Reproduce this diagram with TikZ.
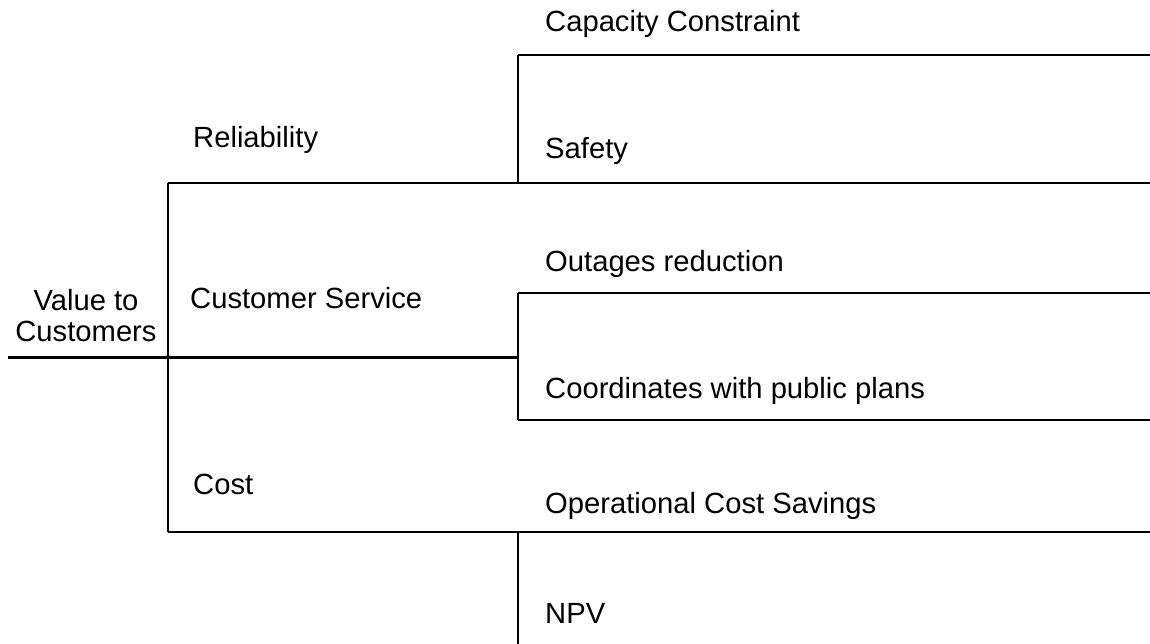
\documentclass[tikz,border=0pt]{standalone}
\usepackage{fontspec}
\setmainfont{Liberation Sans}
\begin{document}
\begin{tikzpicture}[x=1pt,y=-1pt,
  thin line/.style={line width=1.5pt},
  thick line/.style={line width=3pt},
  lbl/.style={anchor=base west, inner sep=0pt, font=\fontsize{29.2}{34}\selectfont}]
\useasboundingbox (0,0) rectangle (1150,644);
% coordinates
\coordinate (r0) at (8,357);
\coordinate (j1) at (168,357);
\coordinate (j1t) at (168,183);
\coordinate (j1b) at (168,532);
\coordinate (e1t) at (1150,183);
\coordinate (j2) at (518,357);
\coordinate (j2t) at (518,293);
\coordinate (j2b) at (518,420);
\coordinate (e2t) at (1150,293);
\coordinate (e2b) at (1150,420);
\coordinate (j3t) at (518,55);
\coordinate (j3b) at (518,183);
\coordinate (e3t) at (1150,55);
\coordinate (j4) at (518,532);
\coordinate (j4b) at (518,660);
\coordinate (e4t) at (1150,532);
% lines
\draw[thick line] (r0) -- (j2);
\draw[thin line] (j1t) -- (j1b);
\draw[thin line] (j1t) -- (e1t);
\draw[thin line] (j1b) -- (e4t);
\draw[thin line] (j3t) -- (j3b);
\draw[thin line] (j3t) -- (e3t);
\draw[thin line] (j2t) -- (j2b);
\draw[thin line] (j2t) -- (e2t);
\draw[thin line] (j2b) -- (e2b);
\draw[thin line] (j4) -- (j4b);
% labels
\node[lbl] (cap) at (545,32) {Capacity Constraint};
\node[lbl] (rel) at (193,148) {Reliability};
\node[lbl] (saf) at (545,159) {Safety};
\node[lbl] (out) at (545,271) {Outages reduction};
\node[lbl] (cs) at (190,308) {Customer Service};
\node[anchor=base, inner sep=0pt, align=center, font=\fontsize{29.2}{30.5}\selectfont] (root) at (86,341) {Value to\\Customers};
\node[lbl] (coo) at (545,398) {Coordinates with public plans};
\node[lbl] (cost) at (193,494) {Cost};
\node[lbl] (ops) at (545,513) {Operational Cost Savings};
\node[lbl] (npv) at (545,623) {NPV};
\end{tikzpicture}
\end{document}
